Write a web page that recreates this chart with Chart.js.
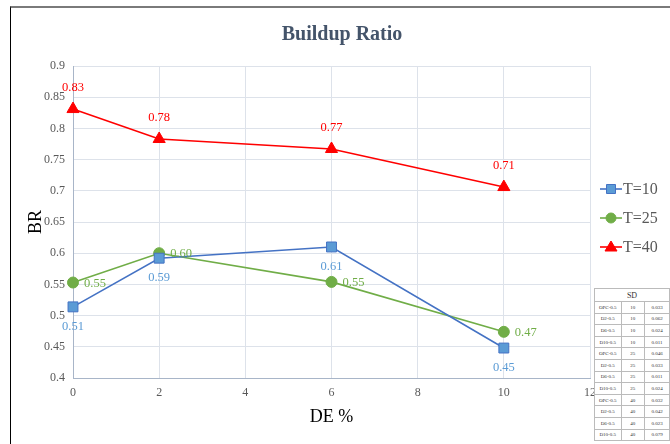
<!DOCTYPE html>
<html>
<head>
<meta charset="utf-8">
<script src="https://cdn.jsdelivr.net/npm/chart.js@4/dist/chart.umd.min.js"></script>
<style>
  html, body { margin: 0; padding: 0; background: #fff; }
  #wrap { position: relative; width: 670px; height: 444px; overflow: hidden; }
  #c { position: absolute; left: 0; top: 0; }
  #frame { position: absolute; left: 10px; top: 6px; width: 700px; height: 500px;
           border-top: 2px solid #7a7a7a; border-left: 1px solid #000; box-sizing: border-box; }
  #sd { position: absolute; left: 594px; top: 288px; border-collapse: collapse;
        font-family: "Liberation Serif", serif; font-size: 5px; color: #333; background: #fff;
        table-layout: fixed; }
  #sd td { border: 1px solid #bbb; height: 10.6px; padding: 0; text-align: center; overflow: hidden; white-space: nowrap; }
  #sd td.h { font-size: 8px; height: 12px; }
</style>
</head>
<body>
<div id="wrap">
  <canvas id="c" width="670" height="444"></canvas>
  <div id="frame"></div>
  <table id="sd"></table>
</div>
<script>
// ---- data ----
const xValues = [0, 2, 6, 10];
const seriesNames = ['T=10', 'T=25', 'T=40'];
const t10 = [0.514, 0.592, 0.610, 0.448];
const t25 = [0.553, 0.600, 0.554, 0.474];
const t40 = [0.831, 0.783, 0.767, 0.706];
const xTicks = [0, 2, 4, 6, 8, 10, 12];
const yTicks = [0.4, 0.45, 0.5, 0.55, 0.6, 0.65, 0.7, 0.75, 0.8, 0.85, 0.9];

// side table (SD)
const sdMixes = ['OPC-0.5', 'D2-0.5', 'D6-0.5', 'D10-0.5'];
const sdTemps = [10, 25, 40];
const sdValues = [0.033, 0.062, 0.024, 0.011, 0.046, 0.033, 0.011, 0.024, 0.032, 0.042, 0.023, 0.079];

// build side table
(function () {
  const tbl = document.getElementById('sd');
  let html = '<colgroup><col style="width:29px"><col style="width:29px"><col style="width:29px"></colgroup>';
  html += '<tr><td class="h" colspan="3">SD</td></tr>';
  let k = 0;
  sdTemps.forEach(t => {
    sdMixes.forEach(m => {
      html += '<tr><td>' + m + '</td><td>' + t + '</td><td>' + sdValues[k].toFixed(3) + '</td></tr>';
      k++;
    });
  });
  tbl.innerHTML = html;
})();

const serif = '"Liberation Serif", "Times New Roman", serif';

const seriesStyle = [
  { line: '#4472c4', fill: '#5b9bd5', label: '#5b9bd5', point: 'rect', radius: 7, pos: 'below' },
  { line: '#70ad47', fill: '#70ad47', label: '#70ad47', point: 'circle', radius: 5.5, pos: 'right' },
  { line: '#ff0000', fill: '#ff0000', label: '#ff0000', point: 'triangle', radius: 7, pos: 'above' }
];
const seriesData = [t10, t25, t40];

const datasets = seriesData.map((vals, i) => ({
  label: seriesNames[i],
  data: xValues.map((x, j) => ({ x: x, y: vals[j] })),
  borderColor: seriesStyle[i].line,
  backgroundColor: seriesStyle[i].fill,
  pointBackgroundColor: seriesStyle[i].fill,
  pointBorderColor: seriesStyle[i].line,
  pointBorderWidth: 1,
  pointStyle: seriesStyle[i].point,
  pointRadius: seriesStyle[i].radius,
  borderWidth: 1.6,
  tension: 0,
  clip: false
}));

const customDraw = {
  id: 'customDraw',
  afterDatasetsDraw(chart) {
    const ctx = chart.ctx;
    ctx.save();
    // value labels
    ctx.font = '12.5px ' + serif;
    chart.data.datasets.forEach((ds, i) => {
      const meta = chart.getDatasetMeta(i);
      const st = seriesStyle[i];
      ctx.fillStyle = st.label;
      meta.data.forEach((pt, j) => {
        const txt = seriesData[i][j].toFixed(2);
        if (st.pos === 'below') {
          ctx.textAlign = 'center'; ctx.textBaseline = 'middle';
          ctx.fillText(txt, pt.x, pt.y + 20);
        } else if (st.pos === 'above') {
          ctx.textAlign = 'center'; ctx.textBaseline = 'middle';
          ctx.fillText(txt, pt.x, pt.y - 21);
        } else {
          ctx.textAlign = 'left'; ctx.textBaseline = 'middle';
          ctx.fillText(txt, pt.x + 11, pt.y + 1);
        }
      });
    });
    // title
    ctx.fillStyle = '#44546a';
    ctx.font = 'bold 20px ' + serif;
    ctx.textAlign = 'center'; ctx.textBaseline = 'middle';
    ctx.fillText('Buildup Ratio', 342, 35);
    // legend
    const legY = [189, 218, 247];
    ctx.font = '16px ' + serif;
    chart.data.datasets.forEach((ds, i) => {
      const st = seriesStyle[i];
      const y = legY[i];
      ctx.strokeStyle = st.line; ctx.lineWidth = 1.6;
      ctx.beginPath(); ctx.moveTo(600, y); ctx.lineTo(622, y); ctx.stroke();
      ctx.fillStyle = st.fill; ctx.strokeStyle = st.line; ctx.lineWidth = 1;
      ctx.beginPath();
      if (st.point === 'rect') { ctx.rect(611 - 4.5, y - 4.5, 9, 9); }
      else if (st.point === 'circle') { ctx.arc(611, y, 5, 0, Math.PI * 2); }
      else { ctx.moveTo(611, y - 6); ctx.lineTo(617, y + 4); ctx.lineTo(605, y + 4); ctx.closePath(); }
      ctx.fill(); ctx.stroke();
      ctx.fillStyle = '#595959';
      ctx.textAlign = 'left'; ctx.textBaseline = 'middle';
      ctx.fillText(ds.label, 623, y + 1);
    });
    ctx.restore();
  }
};

new Chart(document.getElementById('c'), {
  type: 'line',
  data: { datasets: datasets },
  options: {
    responsive: false,
    animation: false,
    layout: { padding: { left: 10, top: 66, right: 80, bottom: 0 } },
    plugins: { legend: { display: false }, title: { display: false }, tooltip: { enabled: false } },
    scales: {
      x: {
        type: 'linear', min: 0, max: 12,
        afterBuildTicks(scale) { scale.ticks = xTicks.map(v => ({ value: v })); },
        afterFit(scale) { scale.height = 66; },
        ticks: { color: '#595959', font: { family: serif, size: 12 }, padding: 8, maxRotation: 0 },
        grid: { color: '#dde2ea', drawTicks: false, lineWidth: 1 },
        border: { color: '#a8b5c8', width: 1 },
        title: { display: true, text: 'DE %', color: '#000', font: { family: serif, size: 18 }, padding: { top: 0, bottom: 16 } }
      },
      y: {
        type: 'linear', min: 0.4, max: 0.9,
        afterBuildTicks(scale) { scale.ticks = yTicks.map(v => ({ value: v })); },
        afterFit(scale) { scale.width = 63; },
        ticks: { color: '#595959', font: { family: serif, size: 12 }, padding: 8,
                 callback: v => String(Math.round(v * 100) / 100) },
        grid: { color: '#dde2ea', drawTicks: false, lineWidth: 1 },
        border: { color: '#a8b5c8', width: 1 },
        title: { display: true, text: 'BR', color: '#000', font: { family: serif, size: 18 }, padding: { top: 15, bottom: 0 } }
      }
    }
  },
  plugins: [customDraw]
});
</script>
</body>
</html>
